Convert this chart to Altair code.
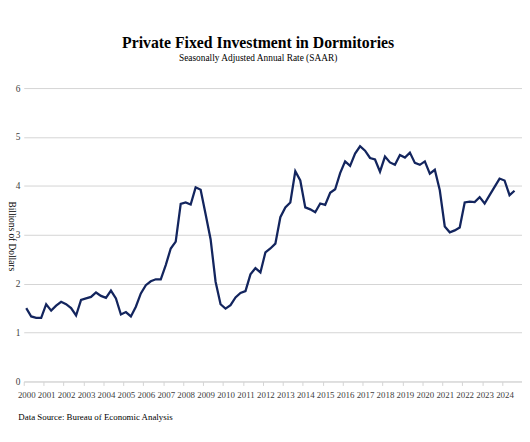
import altair as alt
import pandas as pd

# ---- data, quarterly, 2000 Q1 .. 2024 Q3 ----
years = list(range(2000, 2025))
values = [
    1.50, 1.33, 1.30, 1.30,   # 2000
    1.58, 1.45, 1.55, 1.63,   # 2001
    1.58, 1.50, 1.35, 1.67,   # 2002
    1.70, 1.73, 1.82, 1.75,   # 2003
    1.71, 1.86, 1.70, 1.37,   # 2004
    1.42, 1.33, 1.53, 1.80,   # 2005
    1.97, 2.05, 2.09, 2.09,   # 2006
    2.38, 2.72, 2.86, 3.63,   # 2007
    3.66, 3.62, 3.97, 3.92,   # 2008
    3.42, 2.91, 2.04, 1.58,   # 2009
    1.49, 1.56, 1.72, 1.81,   # 2010
    1.85, 2.19, 2.32, 2.23,   # 2011
    2.64, 2.72, 2.82, 3.36,   # 2012
    3.56, 3.66, 4.30, 4.11,   # 2013
    3.56, 3.52, 3.46, 3.64,   # 2014
    3.61, 3.86, 3.93, 4.26,   # 2015
    4.50, 4.41, 4.66, 4.81,   # 2016
    4.72, 4.57, 4.54, 4.29,   # 2017
    4.60, 4.48, 4.43, 4.63,   # 2018
    4.58, 4.68, 4.47, 4.43,   # 2019
    4.50, 4.25, 4.33, 3.91,   # 2020
    3.17, 3.05, 3.09, 3.15,   # 2021
    3.66, 3.68, 3.67, 3.77,   # 2022
    3.64, 3.81, 3.98, 4.15,   # 2023
    4.11, 3.81, 3.90,         # 2024
]
periods = [f"{y} Q{q}" for y in years for q in (1, 2, 3, 4)][: len(values)]
y_ticks = [0, 1, 2, 3, 4, 5, 6]

title_text = "Private Fixed Investment in Dormitories"
subtitle_text = "Seasonally Adjusted Annual Rate (SAAR)"
y_title = "Billions of Dollars"
source_text = "Data Source: Bureau of Economic Analysis"

df = pd.DataFrame({"idx": list(range(len(values))), "period": periods, "value": values})

FONT = "Liberation Serif"
GRID = "#d4d4d4"
LABEL = "#404040"
LINE = "#13255e"
n_slots = len(years) * 4
W, H = 506, 298
LEFT = 16
half_step = W / n_slots / 2

x_scale = alt.Scale(domain=[-0.5, n_slots - 0.5], nice=False, zero=False)
y_scale = alt.Scale(domain=[0, 6], nice=False)

chart = (
    alt.Chart(df)
    .mark_line(color=LINE, strokeWidth=2.3)
    .encode(
        x=alt.X(
            "idx:Q",
            scale=x_scale,
            axis=alt.Axis(
                values=[i * 4 for i in range(len(years))],
                labelExpr="'' + (2000 + datum.value / 4)",
                labelFont=FONT, labelFontSize=9, labelColor=LABEL, labelPadding=5,
                labelOverlap=False, labelFlush=False,
                ticks=True, tickSize=4, tickColor=GRID, tickWidth=1,
                tickOffset=-half_step, labelOffset=half_step,
                grid=False,
                domain=True, domainColor=GRID, domainWidth=1,
                title=source_text, titleFont=FONT, titleFontSize=9,
                titleFontWeight="normal", titleColor="#000000",
                titleAnchor="start", titleAlign="left", titleBaseline="middle",
                titleX=-6, titleY=36,
            ),
        ),
        y=alt.Y(
            "value:Q",
            scale=y_scale,
            axis=alt.Axis(
                values=y_ticks, format="d",
                labelFont=FONT, labelFontSize=9.5, labelColor=LABEL, labelPadding=4,
                domain=False, ticks=False,
                grid=True, gridColor=GRID, gridWidth=1,
                title=y_title, titleFont=FONT, titleFontSize=9.5, titleFontWeight="normal",
                titleColor="#000000", titleAngle=90, titleAlign="center",
                titleBaseline="alphabetic", titleX=-LEFT + 1, titleY=150,
            ),
        ),
        tooltip=["period:N", "value:Q"],
    )
    .properties(
        width=W,
        height=H,
        background="white",
        autosize=alt.AutoSizeParams(type="none"),
        padding={"left": LEFT, "top": 78, "right": 0, "bottom": 50},
        title=alt.TitleParams(
            text=title_text,
            subtitle=subtitle_text,
            font=FONT, fontSize=16, fontWeight="bold", color="#000000",
            subtitleFont=FONT, subtitleFontSize=9.5, subtitleColor="#000000",
            anchor="middle", frame="group", dx=-15, offset=21, subtitlePadding=2,
        ),
    )
    .configure_view(strokeWidth=0, stroke="transparent")
)

chart.save("out.html", embed_options={"renderer": "svg", "actions": False})
